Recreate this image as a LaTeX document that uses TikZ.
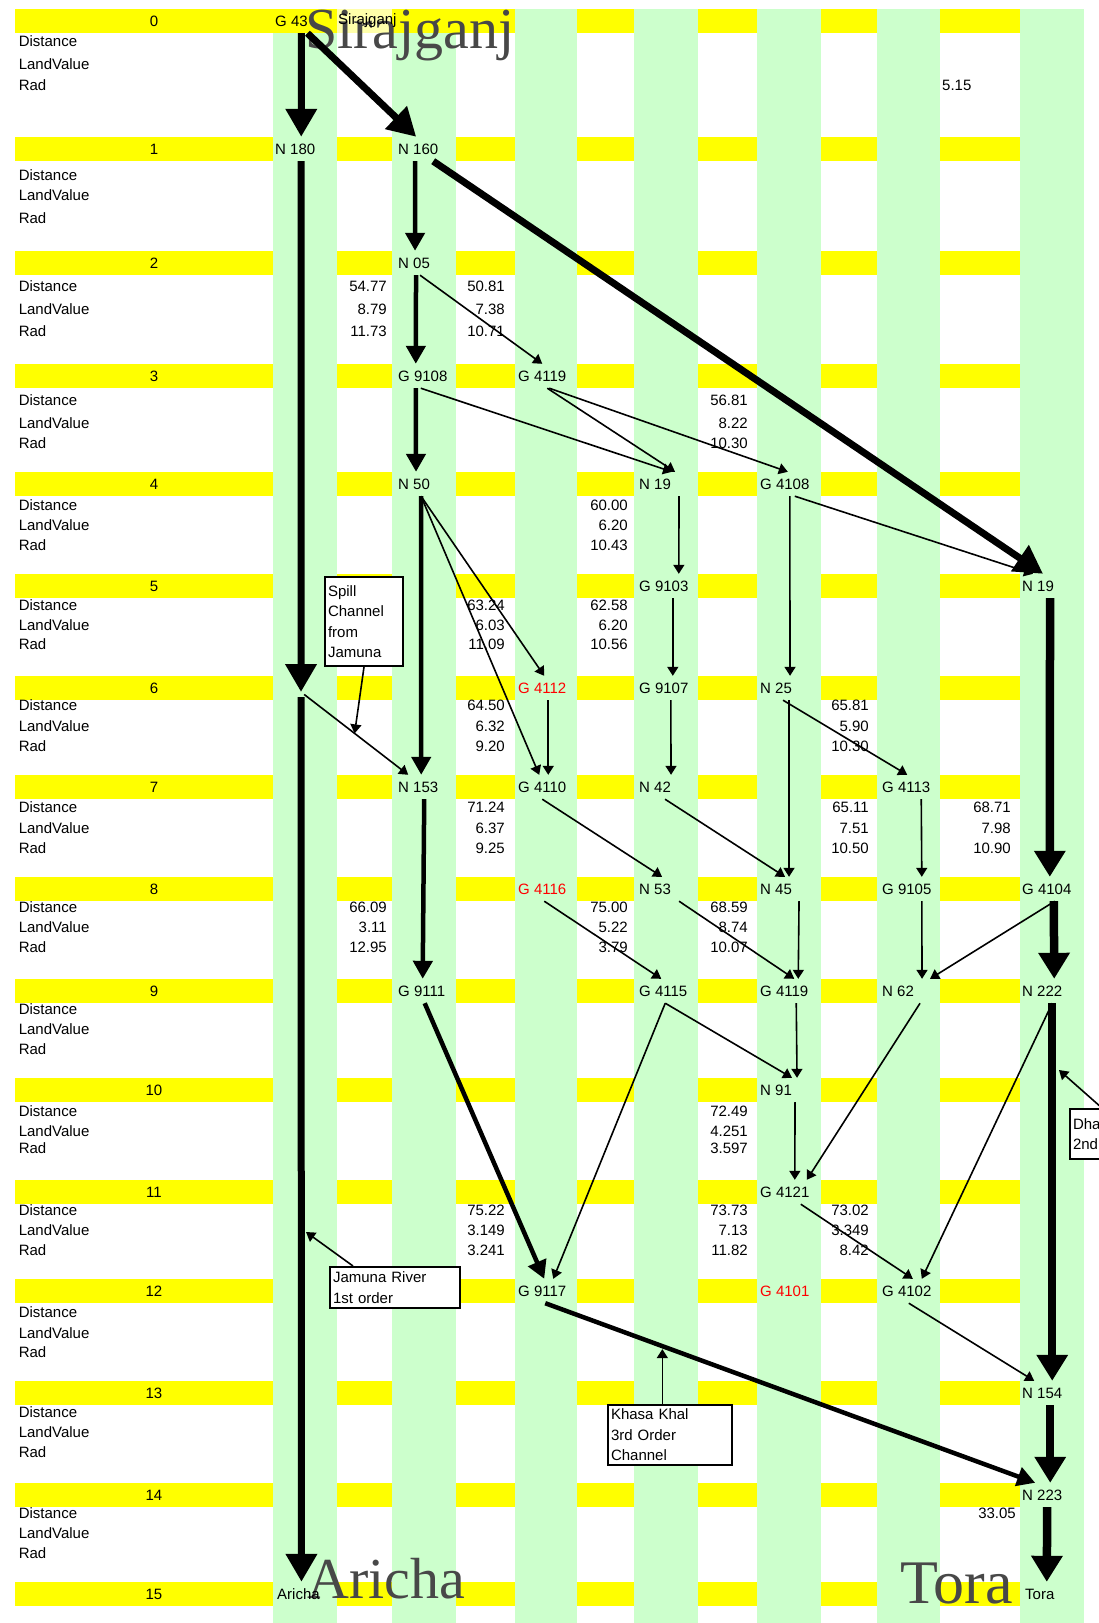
\documentclass[tikz,border=0pt]{standalone}
\usepackage{fontspec}
\setmainfont{Liberation Sans}
\newfontfamily\bigserif{Liberation Serif}
\usetikzlibrary{arrows.meta,calc}
\definecolor{ylw}{RGB}{255,255,0}
\definecolor{grn}{RGB}{204,255,204}
\definecolor{paleylw}{RGB}{255,255,170}
\definecolor{bigtxt}{RGB}{72,72,72}
\definecolor{redtxt}{RGB}{255,0,0}
\begin{document}
\begin{tikzpicture}[x=1pt,y=-1pt,
  txt/.style={inner sep=0pt, font=\fontsize{15}{18}\selectfont},
  lab/.style={txt, anchor=west, minimum height=24pt},
  val/.style={txt, anchor=east},
  side/.style={txt, anchor=west},
  big/.style={inner sep=0pt, anchor=base west, text=bigtxt, font=\bigserif\fontsize{58}{62}\selectfont},
  box/.style={draw, line width=2pt, fill=white, anchor=north west, align=left, inner xsep=3pt, inner ysep=0pt, font=\fontsize{15}{20.5}\selectfont},
  thk/.style={line width=7pt, -{Triangle[width=30pt,length=28pt]}},
  thkr/.style={line width=8.5pt, -{Triangle[width=30pt,length=26pt]}},
  med/.style={line width=4.5pt, -{Triangle[width=19pt,length=18pt]}},
  thn/.style={line width=1.6pt, -{Triangle[width=11pt,length=9pt]}}
]
\useasboundingbox (0,0) rectangle (1099,1623);
\clip (0,0) rectangle (1099,1623);
\fill[white] (0,0) rectangle (1099,1623);
% green columns
\foreach \a/\b in {273/337,392/456,515/577,634/698,757/821,877/940,1020/1084}
  \fill[grn] (\a,9) rectangle (\b,1623);
% yellow bands, labels
\foreach \r/\t/\da/\db/\dc in {0/9/32/55/76, 1/137/38/58/81, 2/251/35/58/80, 3/364/36/59/79, 4/472/33/53/73, 5/574/31/51/70, 6/676/29/50/70, 7/775/32/53/73, 8/877/30/50/70, 9/979/30/50/70, 10/1078/33/53/70, 11/1180/30/50/70, 12/1279/33/54/73, 13/1381/31/51/71, 14/1483/30/50/70}{
  \fill[ylw] (15,\t) rectangle (273,{\t+24});
  \foreach \a/\b in {337/392,456/515,577/634,698/757,821/877,940/1020}
    \fill[ylw] (\a,\t) rectangle (\b,{\t+24});
  \node[txt] (rl\r) at (154,{\t+12}) {\r};
  \node[side] (dist\r) at (18.6,{\t+\da}) {Distance};
  \node[side] (lv\r) at (18.6,{\t+\db}) {LandValue};
  \node[side] (rad\r) at (18.6,{\t+\dc}) {Rad};
}
\fill[ylw] (15,1582) rectangle (273,1606);
\foreach \a/\b in {337/392,456/515,577/634,698/757,821/877,940/1020}
  \fill[ylw] (\a,1582) rectangle (\b,1606);
\node[txt] (rl15) at (154,1594) {15};
% row 0 special cells
\fill[ylw] (273,9) rectangle (515,33);
\fill[paleylw] (337,9) rectangle (392,33);

% big place names
\node[big] (bigsir) at (305,48) {Sirajganj};
\node[big] (bigari) at (307,1598) {Aricha};
\node[big, font=\bigserif\fontsize{62}{66}\selectfont] (bigtora) at (900,1603) {Tora};

% nodes
\node[lab] (g43) at (275,21) {G 43};
\node[lab] (sirsmall) at (338,21) {Sirajganj};
\node[lab] (n180) at (275,149) {N 180};
\node[lab] (n160) at (398,149) {N 160};
\node[lab] (n05) at (398,263) {N 05};
\node[lab] (g9108) at (398,376) {G 9108};
\node[lab] (g4119a) at (518,376) {G 4119};
\node[lab] (n50) at (398,484) {N 50};
\node[lab] (n19a) at (639,484) {N 19};
\node[lab] (g4108) at (760,484) {G 4108};
\node[lab] (g9103) at (639,586) {G 9103};
\node[lab] (n19b) at (1022,586) {N 19};
\coordinate (r6) at (301,692);
\node[lab,text=redtxt] (g4112) at (518,688) {G 4112};
\node[lab] (g9107) at (639,688) {G 9107};
\node[lab] (n25) at (760,688) {N 25};
\node[lab] (n153) at (398,787) {N 153};
\node[lab] (g4110) at (518,787) {G 4110};
\node[lab] (n42) at (639,787) {N 42};
\node[lab] (g4113) at (882,787) {G 4113};
\node[lab,text=redtxt] (g4116) at (518,889) {G 4116};
\node[lab] (n53) at (639,889) {N 53};
\node[lab] (n45) at (760,889) {N 45};
\node[lab] (g9105) at (882,889) {G 9105};
\node[lab] (g4104) at (1022,889) {G 4104};
\node[lab] (g9111) at (398,991) {G 9111};
\node[lab] (g4115) at (639,991) {G 4115};
\node[lab] (g4119b) at (760,991) {G 4119};
\node[lab] (n62) at (882,991) {N 62};
\node[lab] (n222) at (1022,991) {N 222};
\node[lab] (n91) at (760,1090) {N 91};
\node[lab] (g4121) at (760,1192) {G 4121};
\node[lab] (g9117) at (518,1291) {G 9117};
\node[lab,text=redtxt] (g4101) at (760,1291) {G 4101};
\node[lab] (g4102) at (882,1291) {G 4102};
\node[lab] (n154) at (1022,1393) {N 154};
\node[lab] (n223) at (1022,1495) {N 223};
\node[lab] (aricha) at (277,1594) {Aricha};
\node[lab] (tora) at (1025,1594) {Tora};

% values
\foreach \n/\x/\y/\v in {
  a1/387/286/54.77, a2/387/309/8.79, a3/387/331/11.73,
  a4/505/286/50.81, a5/505/309/7.38, a6/505/331/10.71,
  b1/748/400/56.81, b2/748/423/8.22, b3/748/443/10.30,
  c1/628/505/60.00, c2/628/525/6.20, c3/628/545/10.43,
  d1/505/605/63.24, d2/505/625/6.03, d3/505/644/11.09,
  d4/628/605/62.58, d5/628/625/6.20, d6/628/644/10.56,
  e1/505/705/64.50, e2/505/726/6.32, e3/505/746/9.20,
  e4/869/705/65.81, e5/869/726/5.90, e6/869/746/10.30,
  f1/505/807/71.24, f2/505/828/6.37, f3/505/848/9.25,
  f4/869/807/65.11, f5/869/828/7.51, f6/869/848/10.50,
  f7/1011/807/68.71, f8/1011/828/7.98, f9/1011/848/10.90,
  g1/387/907/66.09, g2/387/927/3.11, g3/387/947/12.95,
  g4/628/907/75.00, g5/628/927/5.22, g6/628/947/3.79,
  g7/748/907/68.59, g8/748/927/8.74, g9/748/947/10.07,
  h1/748/1111/72.49, h2/748/1131/4.251, h3/748/1148/3.597,
  i1/505/1210/75.22, i2/505/1230/3.149, i3/505/1250/3.241,
  i4/748/1210/73.73, i5/748/1230/7.13, i6/748/1250/11.82,
  i7/869/1210/73.02, i8/869/1230/3.349, i9/869/1250/8.42,
  j1/1016/1513/33.05}
  \node[val] (v\n) at (\x,\y) {\v};
\node[side] (v00) at (942,85) {5.15};

% thick connectors
\draw[thk] ([xshift=10pt]g43.south) -- ([xshift=6pt]n180.north);
\draw[thk] ([xshift=16pt]g43.south) -- ([xshift=-2pt]n160.north);
\draw[thk] ([xshift=15pt]n160.south) -- ([xshift=5pt]n19b.north);
\draw[thk] ([xshift=6pt]n180.south) -- (r6);
\draw[thk,shorten <=5pt] (r6) -- ([xshift=3pt]aricha.north);
\draw[thkr] ([xshift=12pt]n19b.south) -- ([xshift=3pt]g4104.north);
\draw[thkr] ([xshift=7pt]g4104.south) -- ([xshift=12pt]n222.north);
\draw[thkr] ([xshift=10pt]n222.south) -- ([xshift=10pt]n154.north);
\draw[thkr] ([xshift=8pt]n154.south) -- ([xshift=8pt]n223.north);
\draw[thkr] ([xshift=5pt]n223.south) -- ([xshift=7pt]tora.north);

% medium connectors
\draw[med] ([xshift=-3pt]n160.south) -- ([xshift=1pt]n05.north);
\draw[med] ([xshift=2pt]n05.south) -- ([xshift=-7pt]g9108.north);
\draw[med] ([xshift=-7pt]g9108.south) -- ([xshift=2pt]n50.north);
\draw[med] ([xshift=7pt]n50.south) -- ([xshift=3pt]n153.north);
\draw[med] ([xshift=6pt]n153.south) -- ([xshift=1pt]g9111.north);
\draw[med] ([xshift=3pt]g9111.south) -- ([xshift=2pt]g9117.north);
\coordinate (m7s) at ([xshift=3pt]g9117.south);
\coordinate (m7e) at ([xshift=-7pt]n223.north);
\draw[med] (m7s) -- (m7e);

% thin connectors
\coordinate (n153in) at ([xshift=-10pt]n153.north);
\draw[thn] ([xshift=6pt]n05.south) -- (g4119a.north);
\draw[thn] ([xshift=-2pt]g9108.south) -- ([xshift=17pt]n19a.north);
\draw[thn] ([xshift=5pt]g4119a.south) -- ([xshift=20pt]n19a.north);
\draw[thn] ([xshift=7pt]g4119a.south) -- ([xshift=3pt]g4108.north);
\draw[thn] ([xshift=10pt]g4108.south) -- ([xshift=-5pt]n19b.north);
\draw[thn] ([xshift=5pt]g4108.south) -- ([xshift=14pt]n25.north);
\draw[thn] ([xshift=24pt]n19a.south) -- ([xshift=15pt]g9103.north);
\draw[thn] ([xshift=9pt]g9103.south) -- ([xshift=9pt]g9107.north);
\draw[thn] ([xshift=7pt]g9107.south) -- ([xshift=16pt]n42.north);
\draw[thn] ([xshift=7pt]n50.south) -- ([xshift=2pt]g4112.north);
\draw[thn] ([xshift=7pt]n50.south) -- ([xshift=-3pt]g4110.north);
\draw[thn] ([xshift=6pt]g4112.south) -- ([xshift=6pt]g4110.north);
\draw[thn,shorten <=4pt] (r6) -- (n153in);
\draw[thn] (g4110.south) -- ([xshift=7pt]n53.north);
\draw[thn] ([xshift=10pt]n42.south) -- ([xshift=9pt]n45.north);
\draw[thn] ([xshift=13pt]n25.south) -- ([xshift=13pt]n45.north);
\draw[thn] ([xshift=7pt]n25.south) -- ([xshift=1pt]g4113.north);
\draw[thn] ([xshift=15pt]g4113.south) -- ([xshift=15pt]g9105.north);
\draw[thn] ([xshift=2pt]g4116.south) -- ([xshift=-2pt]g4115.north);
\draw[thn] ([xshift=24pt]n53.south) -- ([xshift=10pt]g4119b.north);
\draw[thn] ([xshift=23pt]n45.south) -- ([xshift=14pt]g4119b.north);
\draw[thn] ([xshift=15pt]g9105.south) -- ([xshift=24pt]n62.north);
\draw[thn] ([xshift=8pt]g4104.south) -- ([xshift=32pt]n62.north);
\draw[thn] ([xshift=2pt]g4115.south) -- ([xshift=16pt]n91.north);
\draw[thn] ([xshift=2pt]g4115.south) -- ([xshift=11pt]g9117.north);
\draw[thn] ([xshift=12pt]g4119b.south) -- ([xshift=21pt]n91.north);
\draw[thn] ([xshift=19pt]n91.south) -- ([xshift=10pt]g4121.north);
\draw[thn] ([xshift=22pt]n62.south) -- ([xshift=22pt]g4121.north);
\draw[thn] ([xshift=10pt]n222.south) -- ([xshift=15pt]g4102.north);
\draw[thn] ([xshift=16pt]g4121.south) -- ([xshift=6pt]g4102.north);
\draw[thn] ([xshift=2pt]g4102.south) -- ([xshift=-8pt]n154.north);

% annotation boxes
\node[box, text width=72pt, minimum height=89pt] (spill) at (324,576) {Spill\\Channel\\from\\Jamuna};
\node[box, text width=124pt, minimum height=41pt] (jam) at (329,1266) {Jamuna River\\1st order};
\node[box, text width=118pt, minimum height=60pt] (khasa) at (607,1404) {Khasa Khal\\3rd Order\\Channel};
\node[box, text width=100pt, minimum height=50pt] (dha) at (1069,1108) {Dha\\2nd};

\coordinate (spilltip) at ($(r6)!0.5!(n153in)$);
\draw[thn] (spill.south) -- (spilltip);
\coordinate (jtip) at (306,1232);
\draw[thn] ([xshift=24pt]jam.north west) -- (jtip);
\coordinate (kon) at ($(m7s)!0.239!(m7e)$);
\coordinate (ktip) at ([yshift=-3pt]kon);
\draw[thn] (khasa.north -| ktip) -- (ktip);
\coordinate (dtip) at (1059,1070);
\draw[thn] ([xshift=33pt]dha.north west) -- (dtip);
\end{tikzpicture}
\end{document}
